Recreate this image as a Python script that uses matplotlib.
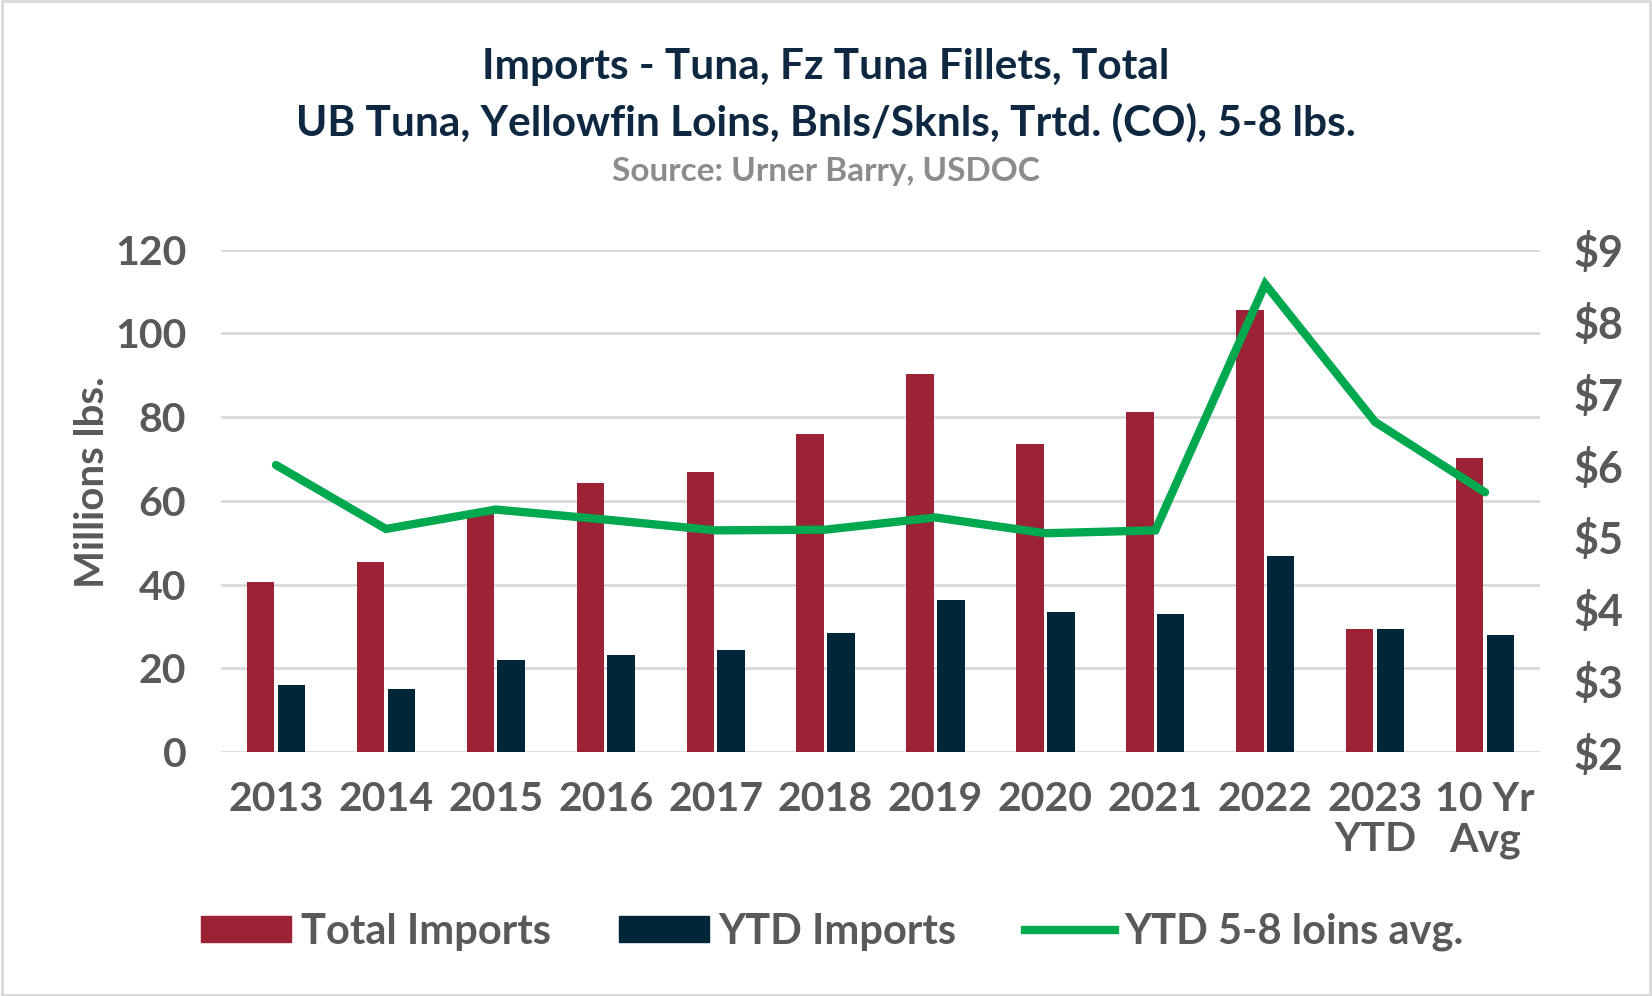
import matplotlib
matplotlib.use("Agg")
import matplotlib.pyplot as plt
import numpy as np
from matplotlib.patches import Patch, Rectangle
from matplotlib.lines import Line2D

# data
categories = ["2013", "2014", "2015", "2016", "2017", "2018", "2019",
              "2020", "2021", "2022", "2023\nYTD", "10 Yr\nAvg"]
total_imports = [40.7, 45.3, 57.0, 64.3, 66.9, 75.9, 90.4, 73.5, 81.3, 105.7, 29.3, 70.2]
ytd_imports = [16.1, 15.1, 22.0, 23.3, 24.4, 28.4, 36.4, 33.4, 33.1, 46.9, 29.3, 28.0]
loins_avg = [6.00, 5.11, 5.38, 5.24, 5.09, 5.10, 5.27, 5.05, 5.09, 8.52, 6.60, 5.62]

RED = "#9B2335"
NAVY = "#00263A"
GREEN = "#00A84F"
GRAY = "#595959"
TITLE = "#0E2841"

plt.rcParams["font.family"] = ["Lato", "DejaVu Sans"]
plt.rcParams["font.weight"] = "bold"

fig = plt.figure(figsize=(16.52, 9.96), dpi=100)
fig.patches.append(Rectangle((0.001, 0.001), 0.998, 0.998, transform=fig.transFigure,
                             fill=False, edgecolor="#D9D9D9", linewidth=2))

ax = fig.add_axes([0.1338, 0.2448, 0.7984, 0.5045])
x = np.arange(len(categories))
w = 0.25
ax.bar(x - 0.14, total_imports, width=w, color=RED, zorder=2)
ax.bar(x + 0.14, ytd_imports, width=w, color=NAVY, zorder=2)

ax.set_xlim(-0.5, len(categories) - 0.5)
ax.set_ylim(0, 120)
ax.set_yticks(range(0, 121, 20))
ax.yaxis.grid(True, color="#D9D9D9", linewidth=2, zorder=0)
ax.set_axisbelow(True)
for s in ax.spines.values():
    s.set_visible(False)
ax.set_xticks(x)
ax.set_xticklabels(categories, fontsize=29.5, fontweight="bold", color=GRAY, linespacing=1.1)
ax.tick_params(axis="x", length=0, pad=21)
ax.tick_params(axis="y", length=0, pad=25, labelsize=29.5, labelcolor=GRAY)
ax.set_ylabel("Millions lbs.", fontsize=29, fontweight="bold", color=GRAY, labelpad=3)
ax.yaxis.label.set_y(0.537)

ax2 = ax.twinx()
ax2.plot(x, loins_avg, color=GREEN, linewidth=6, solid_capstyle="round",
         solid_joinstyle="miter", zorder=3)
ax2.set_ylim(2, 9)
ax2.set_yticks(range(2, 10))
ax2.set_yticklabels([f"${v}" for v in range(2, 10)])
ax2.tick_params(axis="y", length=0, pad=24, labelsize=31, labelcolor=GRAY)
for s in ax2.spines.values():
    s.set_visible(False)

fig.text(0.5, 1 - 67 / 996, "Imports - Tuna, Fz Tuna Fillets, Total", ha="center", va="center",
         fontsize=30.5, fontweight="bold", color=TITLE)
fig.text(0.5, 1 - 122 / 996, "UB Tuna, Yellowfin Loins, Bnls/Sknls, Trtd. (CO), 5-8 lbs.",
         ha="center", va="center", fontsize=30.5, fontweight="bold", color=TITLE)
fig.text(0.5, 1 - 171 / 996, "Source: Urner Barry, USDOC", ha="center", va="center",
         fontsize=24, fontweight="bold", color="#8C8C8C")

handles = [Patch(color=RED, label="Total Imports"),
           Patch(color=NAVY, label="YTD Imports"),
           Line2D([], [], color=GREEN, linewidth=6, label="YTD 5-8 loins avg.")]
leg = fig.legend(handles=handles, loc="center", bbox_to_anchor=(0.504, 1 - 932 / 996), ncol=3,
                 frameon=False, fontsize=30, handlelength=2.15, handleheight=0.55,
                 handletextpad=0.23, columnspacing=1.65)
for t in leg.get_texts():
    t.set_color(GRAY)
    t.set_fontweight("bold")

fig.savefig("out.png", dpi=100)
